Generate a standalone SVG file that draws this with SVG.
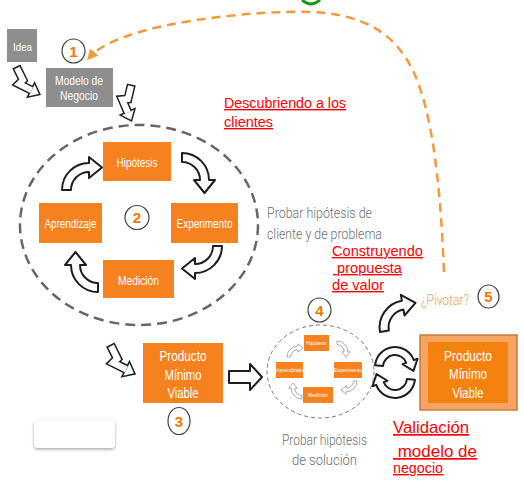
<svg xmlns="http://www.w3.org/2000/svg" width="524" height="496" viewBox="0 0 524 496">
<defs>
<style>
.gbox{fill:#8e8e8e}
.obox{fill:#f5821f}
.wt{fill:#fff;font-family:"Liberation Sans",Arial,sans-serif;text-anchor:middle}
.gt{fill:#6e6e6e;font-family:Roboto,"Liberation Sans",sans-serif;font-weight:300;font-size:14px}
.rt{fill:#ff0000;font-family:"Liberation Sans",Arial,sans-serif;text-decoration:underline}
.num{fill:#f07800;font-family:"Liberation Sans",Arial,sans-serif;font-weight:bold;font-size:15px;text-anchor:middle}
.nc{fill:#fff;stroke:#444;stroke-width:1.2}
.ha{fill:#fff;stroke:#1e1e1e;stroke-width:2;stroke-linejoin:round}
.has{fill:#fff;stroke:#333;stroke-width:1;vector-effect:non-scaling-stroke;stroke-linejoin:round}
.dell{fill:none;stroke:#666;stroke-width:2.5;stroke-dasharray:10 6}
.dells{fill:none;stroke:#777;stroke-width:1;stroke-dasharray:4 3}
.zo{fill:none;stroke:#222;stroke-width:9;stroke-linejoin:miter}
.zi{fill:none;stroke:#fff;stroke-width:6;stroke-linejoin:miter}
.zh{fill:#fff;stroke:#222;stroke-width:1.5;stroke-linejoin:miter}
</style>
<path id="carr" d="M0,0 A27,27 0 0 1 27,27 L33,27 L22.5,40 L12,27 L18,27 A18,18 0 0 0 0,9 Z"/>
<g id="zig">
<path class="zo" d="M-0.7,-1.4 L6,12 L2,16 L14,22"/>
<polygon class="zh" points="10.4,29.2 17.6,14.8 22.9,26.5"/>
<path class="zi" d="M0,0 L6,12 L2,16 L14.6,22.3"/>
</g>
<marker id="oh" viewBox="0 0 10 10" markerWidth="11" markerHeight="11" refX="6" refY="5" orient="auto" markerUnits="userSpaceOnUse">
<path d="M0,0 L10,5 L0,10 Z" fill="#f39a3a"/>
</marker>
<filter id="sh" x="-20%" y="-30%" width="140%" height="170%">
<feDropShadow dx="0" dy="1.5" stdDeviation="1.5" flood-color="#000" flood-opacity="0.35"/>
</filter>
</defs>

<rect width="524" height="496" fill="#fff"/>

<path d="M302,0 Q311,8 320,0" fill="none" stroke="#1a9a1a" stroke-width="3"/>

<g id="connectors">
<path d="M444,272 C440,170 430,110 415,75 C395,30 360,14 310,12 C260,10 120,22 90,57" fill="none" stroke="#f39a3a" stroke-width="2.5" stroke-dasharray="9 6" marker-end="url(#oh)"/>
<use href="#zig" transform="translate(17,68)"/>
<use href="#zig" transform="translate(131,86) rotate(40)"/>
<use href="#zig" transform="translate(111,346) scale(1.05)"/>
<use href="#carr" class="ha" transform="translate(182,153)"/>
<use href="#carr" class="ha" transform="translate(222,246) rotate(90)"/>
<use href="#carr" class="ha" transform="translate(98,292) rotate(180)"/>
<use href="#carr" class="ha" transform="translate(62,190) rotate(-90)"/>
<use href="#carr" class="has" transform="translate(337,341) scale(0.4)"/>
<use href="#carr" class="has" transform="translate(357,381) rotate(90) scale(0.4)"/>
<use href="#carr" class="has" transform="translate(302,399) rotate(180) scale(0.4)"/>
<use href="#carr" class="has" transform="translate(287,357) rotate(-90) scale(0.4)"/>
<polygon class="ha" points="229,371 250,371 250,364 262,377 250,390 250,383 229,383"/>
<use href="#carr" class="ha" transform="translate(380,332) rotate(-100)"/>
<g transform="translate(395,372)">
<path class="ha" transform="translate(0,-5)" d="M-19.9,-1.7 A20,20 0 0 1 18.8,-6.84 L22.56,-8.21 L18.46,3.93 L7.52,-2.74 L11.28,-4.1 A12,12 0 0 0 -11.95,-1.05 Z"/>
<path class="ha" transform="translate(0,6)" d="M19.9,1.7 A20,20 0 0 1 -18.8,6.84 L-22.56,8.21 L-18.46,-3.93 L-7.52,2.74 L-11.28,4.1 A12,12 0 0 0 11.95,1.05 Z"/>
</g>
</g>

<g id="idea">
<rect class="gbox" x="7" y="29" width="30" height="33"/>
<text class="wt" x="22.5" y="51" font-size="11" textLength="19" lengthAdjust="spacingAndGlyphs">Idea</text>
</g>

<g id="n1">
<ellipse class="nc" cx="73.5" cy="51" rx="11.5" ry="12"/>
<text class="num" x="73.5" y="56.5">1</text>
</g>

<g id="modelo">
<rect class="gbox" x="46" y="68" width="67" height="39"/>
<text class="wt" x="79" y="85" font-size="12" textLength="48" lengthAdjust="spacingAndGlyphs">Modelo de</text>
<text class="wt" x="79" y="100" font-size="12" textLength="38" lengthAdjust="spacingAndGlyphs">Negocio</text>
</g>

<g id="t-descubriendo">
<text class="rt" x="224" y="108" font-size="14" textLength="122" lengthAdjust="spacingAndGlyphs">Descubriendo a los</text>
<text class="rt" x="224" y="127" font-size="14" textLength="49" lengthAdjust="spacingAndGlyphs">clientes</text>
</g>

<g id="ciclo1">
<ellipse class="dell" cx="139" cy="225" rx="119" ry="100"/>
</g>

<g id="hipotesis">
<rect class="obox" x="103" y="142" width="68" height="39"/>
<text class="wt" x="137" y="167" font-size="12.5" textLength="41" lengthAdjust="spacingAndGlyphs">Hipótesis</text>
</g>
<g id="experimento">
<rect class="obox" x="171" y="203" width="67" height="40"/>
<text class="wt" x="204.5" y="228" font-size="12.5" textLength="56" lengthAdjust="spacingAndGlyphs">Experimento</text>
</g>
<g id="aprendizaje">
<rect class="obox" x="39" y="203" width="63" height="40"/>
<text class="wt" x="70.5" y="228" font-size="12.5" textLength="52" lengthAdjust="spacingAndGlyphs">Aprendizaje</text>
</g>
<g id="medicion">
<rect class="obox" x="103" y="260" width="71" height="38"/>
<text class="wt" x="138.5" y="285" font-size="12.5" textLength="41" lengthAdjust="spacingAndGlyphs">Medición</text>
</g>
<g id="n2">
<circle class="nc" cx="137" cy="217.5" r="12"/>
<text class="num" x="137" y="223">2</text>
</g>

<g id="t-probar1">
<text class="gt" x="267" y="218" textLength="105" lengthAdjust="spacingAndGlyphs">Probar hipótesis de</text>
<text class="gt" x="267" y="239" textLength="115" lengthAdjust="spacingAndGlyphs">cliente y de problema</text>
</g>

<g id="t-construyendo">
<text class="rt" x="332" y="256" font-size="14" textLength="91" lengthAdjust="spacingAndGlyphs">Construyendo</text>
<text class="rt" x="333" y="273" font-size="14" xml:space="preserve" textLength="69" lengthAdjust="spacingAndGlyphs"> propuesta</text>
<text class="rt" x="332" y="290" font-size="14" textLength="52" lengthAdjust="spacingAndGlyphs">de valor</text>
</g>

<g id="pivotar">
<text x="421" y="305" font-family="Roboto,'Liberation Sans',sans-serif" font-weight="300" font-size="15" fill="#f0a060" textLength="48" lengthAdjust="spacingAndGlyphs">¿Pivotar?</text>
</g>
<g id="n5">
<ellipse class="nc" cx="488.5" cy="296.5" rx="10.5" ry="11.5"/>
<text class="num" x="488.5" y="302">5</text>
</g>

<g id="pmv1">
<rect class="obox" x="143" y="343" width="80" height="60"/>
<text class="wt" x="183" y="361" font-size="14" textLength="47" lengthAdjust="spacingAndGlyphs">Producto</text>
<text class="wt" x="183" y="380" font-size="14" textLength="37" lengthAdjust="spacingAndGlyphs">Mínimo</text>
<text class="wt" x="183" y="398" font-size="14" textLength="31" lengthAdjust="spacingAndGlyphs">Viable</text>
</g>
<g id="n3">
<ellipse class="nc" cx="179" cy="421" rx="11" ry="13.5"/>
<text class="num" x="179" y="426.5">3</text>
</g>

<g id="blank">
<rect x="34" y="420" width="81" height="28" rx="4" fill="#fff" filter="url(#sh)"/>
</g>

<g id="ciclo2">
<ellipse class="dells" cx="320.5" cy="371.5" rx="53.5" ry="46.5"/>
</g>
<g id="s-hipotesis">
<rect class="obox" x="304" y="335" width="25" height="16"/>
<text class="wt" x="316.5" y="345" font-size="5">Hipótesis</text>
</g>
<g id="s-experimento">
<rect class="obox" x="334" y="362" width="28" height="16"/>
<text class="wt" x="348" y="372" font-size="5">Experimento</text>
</g>
<g id="s-aprendizaje">
<rect class="obox" x="276" y="362" width="27" height="16"/>
<text class="wt" x="289.5" y="372" font-size="5">Aprendizaje</text>
</g>
<g id="s-medicion">
<rect class="obox" x="303" y="387" width="30" height="16"/>
<text class="wt" x="318" y="397" font-size="5">Medición</text>
</g>
<g id="n4">
<ellipse class="nc" cx="319.5" cy="310" rx="11.5" ry="12"/>
<text class="num" x="319.5" y="315.5">4</text>
</g>

<g id="t-probar2">
<text class="gt" x="282" y="445" textLength="85" lengthAdjust="spacingAndGlyphs">Probar hipótesis</text>
<text class="gt" x="292" y="465" textLength="65" lengthAdjust="spacingAndGlyphs">de solución</text>
</g>

<g id="pmv2">
<rect x="420" y="335" width="97" height="75" fill="#f5a561" stroke="#c47c3c" stroke-width="1.5"/>
<rect x="428" y="342" width="80" height="61" fill="#f5820f"/>
<text class="wt" x="468" y="361" font-size="14" textLength="48" lengthAdjust="spacingAndGlyphs">Producto</text>
<text class="wt" x="468" y="379" font-size="14" textLength="38" lengthAdjust="spacingAndGlyphs">Mínimo</text>
<text class="wt" x="468" y="398" font-size="14" textLength="31" lengthAdjust="spacingAndGlyphs">Viable</text>
</g>

<g id="t-validacion">
<text class="rt" x="393" y="433" font-size="17" textLength="76" lengthAdjust="spacingAndGlyphs">Validación</text>
<text class="rt" x="393" y="457" font-size="17" xml:space="preserve" textLength="84" lengthAdjust="spacingAndGlyphs"> modelo de</text>
<text class="rt" x="393" y="473" font-size="14" textLength="50" lengthAdjust="spacingAndGlyphs">negocio</text>
</g>
</svg>
